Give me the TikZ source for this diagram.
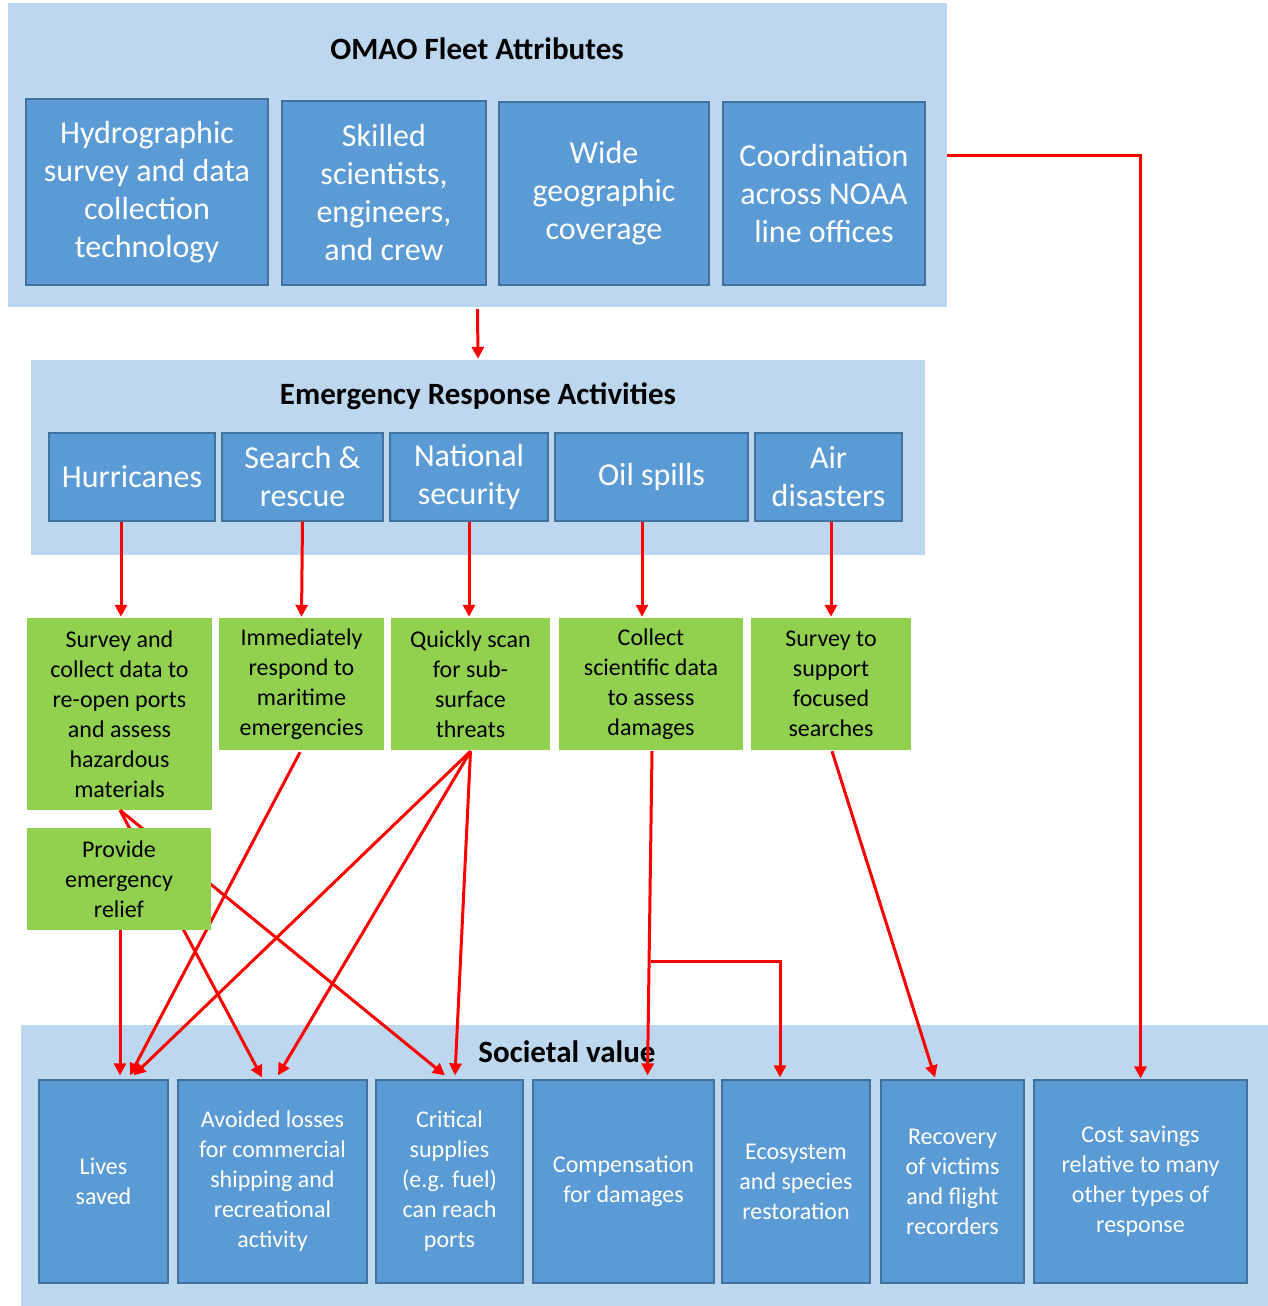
\documentclass[tikz,border=0pt]{standalone}
\usepackage{fontspec}
\setmainfont{Carlito}
\usetikzlibrary{arrows.meta,calc}
\definecolor{panelc}{HTML}{BDD7EE}
\definecolor{boxc}{HTML}{5B9BD5}
\definecolor{boxd}{HTML}{41719C}
\definecolor{greenc}{HTML}{92D050}
\definecolor{arrc}{HTML}{FF0000}
\tikzset{
  panel/.style={fill=panelc, draw=none, inner sep=0pt},
  ptitle/.style={font=\fontsize{31pt}{36pt}\selectfont\bfseries, text=black, inner sep=0pt},
  bluebox/.style={fill=boxc, draw=boxd, line width=1.2pt, text=white, align=center, inner sep=0pt},
  topbox/.style={bluebox, font=\fontsize{32pt}{38pt}\selectfont},
  actbox/.style={bluebox, minimum height=88pt, font=\fontsize{32pt}{38pt}\selectfont},
  valbox/.style={bluebox, minimum height=203pt, font=\fontsize{24pt}{30pt}\selectfont},
  greenbox/.style={fill=greenc, draw=none, text=black, align=center, inner sep=0pt, font=\fontsize{24pt}{30pt}\selectfont},
  arr/.style={draw=arrc, line width=3pt, -{Triangle[length=12pt,width=12pt]}}
}
\begin{document}
\begin{tikzpicture}[x=1pt,y=-1pt]
\useasboundingbox[fill=white] (0,0) rectangle (1268,1306);
% panels
\node[panel, minimum width=939pt, minimum height=304pt] (top) at (477.5,155) {};
\node[panel, minimum width=894pt, minimum height=195pt] (emerg) at (478,457.5) {};
\node[panel, minimum width=1247pt, minimum height=281pt] (soc) at (644.5,1165.5) {};
% titles
\node[ptitle] (t1) at (477,49) {OMAO Fleet Attributes};
\node[ptitle] (t2) at (478,396) {Emergency Response Activities};
\node[ptitle] (t3) at (567,1052) {Societal value};
% top boxes
\node[topbox, minimum width=242pt, minimum height=186pt] (h1) at (147,192) {Hydrographic\\survey and data\\collection\\technology};
\node[topbox, minimum width=204pt, minimum height=184pt] (h2) at (384,193) {Skilled\\scientists,\\engineers,\\and crew};
\node[topbox, minimum width=210pt, minimum height=183pt] (h3) at (604,193.5) {Wide\\geographic\\coverage};
\node[topbox, minimum width=202pt, minimum height=183pt] (h4) at (824,193.5) {Coordination\\across NOAA\\line offices};
% activities
\node[actbox, minimum width=166pt] (e1) at (132,477) {Hurricanes};
\node[actbox, minimum width=161pt] (e2) at (302.5,477) {Search \&\\rescue};
\node[actbox, minimum width=158pt] (e3) at (469,477) {National\\security};
\node[actbox, minimum width=193pt] (e4) at (651.5,477) {Oil spills};
\node[actbox, minimum width=147pt] (e5) at (828.5,477) {Air\\disasters};
% green boxes
\node[greenbox, minimum width=185pt, minimum height=192pt] (g1) at (119.5,714) {Survey and\\collect data to\\re-open ports\\and assess\\hazardous\\materials};
\node[greenbox, minimum width=165pt, minimum height=132pt] (g2) at (301.5,684) {Immediately\\respond to\\maritime\\emergencies};
\node[greenbox, minimum width=159pt, minimum height=132pt] (g3) at (470.5,684) {Quickly scan\\for sub-\\surface\\threats};
\node[greenbox, minimum width=184pt, minimum height=132pt] (g4) at (651,684) {Collect\\scientific data\\to assess\\damages};
\node[greenbox, minimum width=160pt, minimum height=132pt] (g5) at (831,684) {Survey to\\support\\focused\\searches};
% value boxes
\node[valbox, minimum width=129pt] (s1) at (103.5,1181.5) {Lives\\saved};
\node[valbox, minimum width=189pt] (s2) at (272.5,1181.5) {Avoided losses\\for commercial\\shipping and\\recreational\\activity};
\node[valbox, minimum width=147pt] (s3) at (449.5,1181.5) {Critical\\supplies\\(e.g. fuel)\\can reach\\ports};
\node[valbox, minimum width=181pt] (s4) at (623.5,1181.5) {Compensation\\for damages};
\node[valbox, minimum width=148pt] (s5) at (796,1181.5) {Ecosystem\\and species\\restoration};
\node[valbox, minimum width=143pt] (s6) at (952.5,1181.5) {Recovery\\of victims\\and flight\\recorders};
\node[valbox, minimum width=213pt] (s7) at (1140.5,1181.5) {Cost savings\\relative to many\\other types of\\response};
% connectors
\draw[arr] ([yshift=-2pt]top.south) -- ([yshift=1pt]emerg.north);
\draw[arr] (top.east) -| ([yshift=1pt]s7.north);
\draw[arr] ([xshift=-11pt]e1.south) -- ([xshift=1.5pt,yshift=1pt]g1.north);
\draw[arr] (e2.south) -- ([yshift=1pt]g2.north);
\draw[arr] (e3.south) -- ([xshift=-1.5pt,yshift=1pt]g3.north);
\draw[arr] ([xshift=-9.5pt]e4.south) -- ([xshift=-9pt,yshift=1pt]g4.north);
\draw[arr] ([xshift=2.5pt]e5.south) -- ([yshift=1pt]g5.north);
% green to value
\draw[arr] ([xshift=0.5pt]g1.south) -- ([xshift=-10.5pt,yshift=2pt]s2.north);
\draw[arr] ([xshift=0.5pt]g1.south) -- ([xshift=-4.5pt,yshift=4pt]s3.north);
\draw[arr] ([xshift=-1.5pt,yshift=-2pt]g2.south) -- ([xshift=26.5pt,yshift=4pt]s1.north);
\draw[arr] ([yshift=-1pt]g3.south) -- ([xshift=30pt,yshift=4pt]s1.north);
\draw[arr] ([yshift=-1pt]g3.south) -- ([xshift=5.5pt,yshift=4pt]s2.north);
\draw[arr] ([yshift=-1pt]g3.south) -- ([xshift=5.5pt,yshift=4pt]s3.north);
\draw[arr] ([xshift=1pt,yshift=-1pt]g4.south) -- ([xshift=24pt,yshift=4pt]s4.north);
\coordinate (brk) at ($(g4.south)+(-0.5,211)$);
\draw[arr] (brk) -| ([xshift=-16pt,yshift=2pt]s5.north);
\draw[arr] ([xshift=1pt,yshift=-1pt]g5.south) -- ([xshift=-17.5pt,yshift=2pt]s6.north);
% provide box on top
\node[greenbox, minimum width=184pt, minimum height=102pt] (g6) at (119,879) {Provide\\emergency\\relief};
\draw[arr] ([xshift=1pt]g6.south) -- ([xshift=16.5pt,yshift=4pt]s1.north);
\end{tikzpicture}
\end{document}
